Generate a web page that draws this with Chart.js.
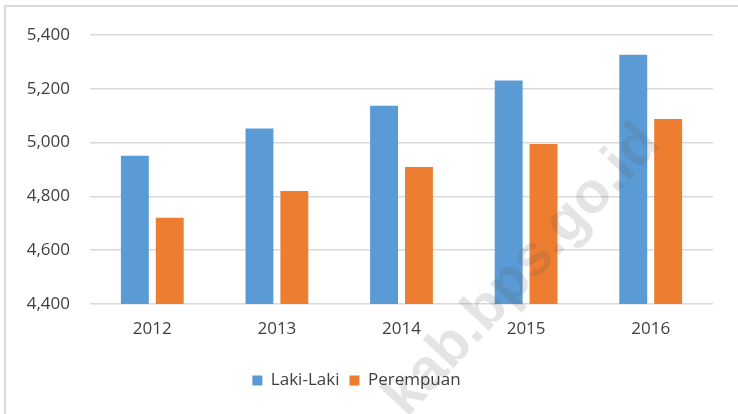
<!DOCTYPE html>
<html>
<head>
<meta charset="utf-8">
<script src="https://cdn.jsdelivr.net/npm/chart.js@4"></script>
<style>
    html, body { margin: 0; padding: 0; background: #fff; }
    #wrap { position: relative; width: 738px; height: 414px; }
    #frame {
        position: absolute; left: 4px; top: 5px; right: 0; bottom: 0;
        border-left: 2px solid #d9d9d9; border-top: 2px solid #d9d9d9;
    }
    canvas { position: absolute; left: 0; top: 0; }
</style>
</head>
<body>
<div id="wrap">
    <div id="frame"></div>
    <canvas id="chart" width="738" height="414"></canvas>
</div>
<script>
const years = ['2012', '2013', '2014', '2015', '2016'];
const lakiLaki = [4951, 5052, 5137, 5231, 5327];
const perempuan = [4721, 4820, 4909, 4995, 5088];
const yMin = 4400;
const yMax = 5400;
const yStep = 200;

const fontFamily = "'Open Sans', 'Liberation Sans', sans-serif";
const textColor = '#404040';

// faint site watermark drawn over the bars
const watermark = {
    id: 'watermark',
    afterDraw(chart) {
        const ctx = chart.ctx;
        ctx.save();
        ctx.translate(650, 134);
        ctx.rotate(-47 * Math.PI / 180);
        ctx.font = "bold 58px 'Liberation Sans', Arial, sans-serif";
        ctx.fillStyle = 'rgba(90, 90, 90, 0.16)';
        ctx.textAlign = 'right';
        ctx.textBaseline = 'middle';
        ctx.fillText('kab.bps.go.id', 0, 0);
        ctx.restore();
    }
};

const ctx = document.getElementById('chart').getContext('2d');
const chart = new Chart(ctx, {
    type: 'bar',
    data: {
        labels: years,
        datasets: [{
            label: 'Laki-Laki',
            data: lakiLaki,
            backgroundColor: '#5B9BD5',
        }, {
            label: 'Perempuan',
            data: perempuan,
            backgroundColor: '#ED7D31',
        }]
    },
    options: {
        responsive: false,
        animation: false,
        categoryPercentage: 0.56,
        barPercentage: 0.8,
        layout: {
            padding: { top: 35, right: 25, bottom: 15, left: 0 }
        },
        plugins: {
            tooltip: { enabled: false },
            legend: {
                position: 'bottom',
                labels: {
                    boxWidth: 10,
                    boxHeight: 10,
                    color: textColor,
                    font: { family: fontFamily, size: 17 },
                    padding: 10,
                }
            }
        },
        scales: {
            x: {
                border: { display: false },
                grid: { display: false, drawTicks: false },
                ticks: {
                    color: textColor,
                    font: { family: fontFamily, size: 17 },
                    padding: 15,
                },
                afterFit: (scale) => { scale.height = 58; }
            },
            y: {
                min: yMin,
                max: yMax,
                border: { display: false },
                grid: { color: '#d9d9d9', lineWidth: 1.5, drawTicks: false },
                ticks: {
                    stepSize: yStep,
                    color: textColor,
                    font: { family: fontFamily, size: 17 },
                    padding: 20,
                    callback: (value) => value.toLocaleString('en-US')
                },
                afterFit: (scale) => { scale.width = 90; }
            }
        }
    },
    plugins: [watermark]
});
</script>
</body>
</html>
